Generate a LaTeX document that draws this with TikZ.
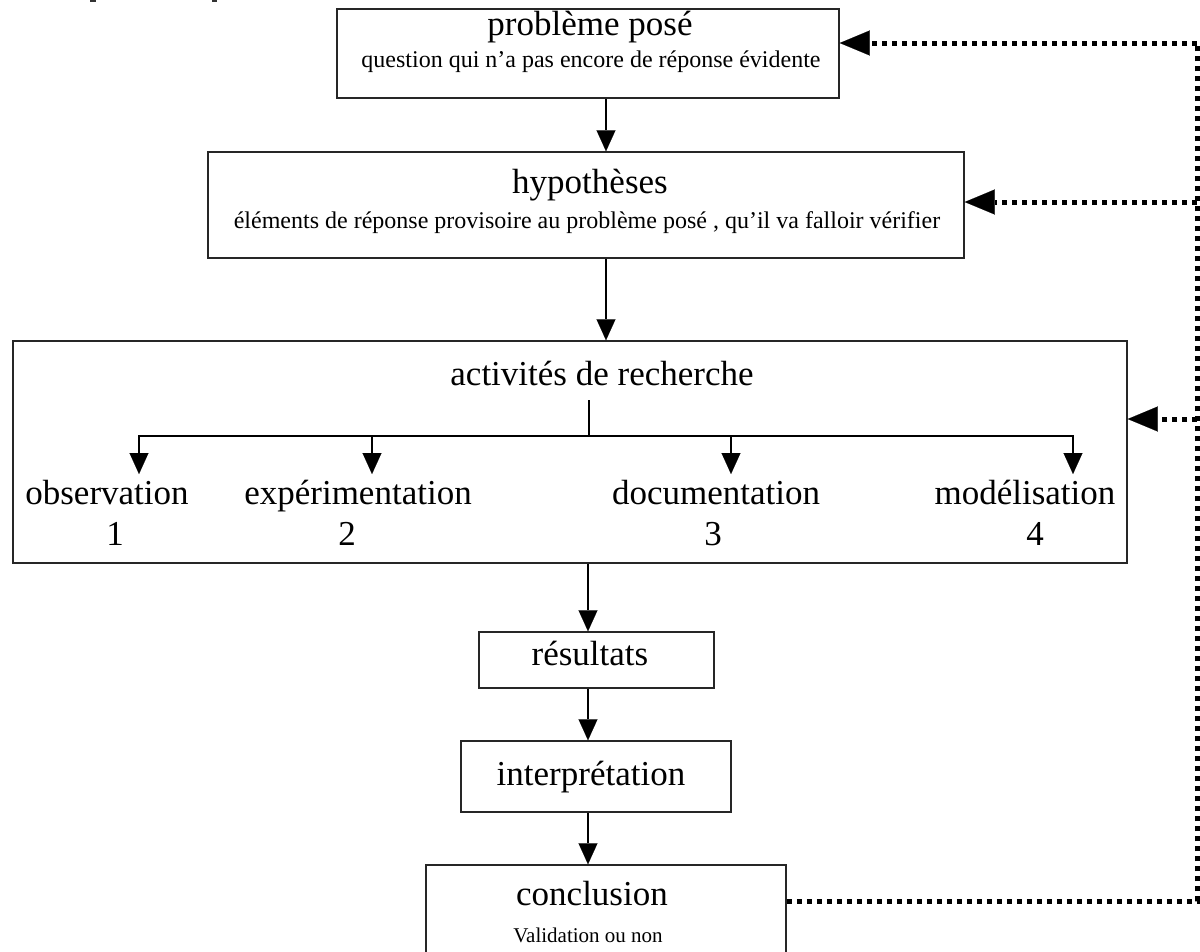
\documentclass[tikz,border=0pt]{standalone}
\usepackage{fontspec}
\setmainfont{Liberation Serif}
\usetikzlibrary{arrows.meta}
\tikzset{
  boxnode/.style={draw=black!85, line width=1.5pt, rectangle, inner sep=0pt},
  ttl/.style={font=\fontsize{35}{40}\selectfont, anchor=base, inner sep=0pt},
  subttl/.style={font=\fontsize{24}{28}\selectfont, anchor=base, inner sep=0pt},
  arr/.style={line width=1.4pt, -{Triangle[length=21pt,width=19pt,line width=0.1pt]}},
  plainline/.style={line width=1.4pt},
  dotline/.style={line width=5pt, dash pattern=on 5pt off 5pt},
  dotarr/.style={-{Triangle[length=30pt,width=25pt,line width=0.1pt]}}
}
\begin{document}
\begin{tikzpicture}[x=1pt,y=-1pt]
\useasboundingbox (0,0) rectangle (1200,951);
\clip (0,0) rectangle (1200,951);
\fill[white] (0,0) rectangle (1200,951);
% stray marks at the top edge
\fill[black!80] (90,0) rectangle (96,2);
\fill[black!80] (212,0) rectangle (217,2);
% boxes
\node[boxnode, minimum width=502pt, minimum height=89pt] (b1) at (588,53.5) {};
\node[boxnode, minimum width=756pt, minimum height=106pt] (b2) at (586,205) {};
\node[boxnode, minimum width=1114pt, minimum height=222pt] (b3) at (570,452) {};
\node[boxnode, minimum width=235pt, minimum height=56pt] (res) at (596.5,660) {};
\node[boxnode, minimum width=270pt, minimum height=71pt] (int) at (596,776.5) {};
\node[boxnode, minimum width=360pt, minimum height=120pt] (conc) at (606,925) {};
% texts
\node[ttl] (t1) at (590,35) {problème posé};
\node[subttl] (s1) at (591,67) {question qui n'a pas encore de réponse évidente};
\node[ttl] (t2) at (590,193) {hypothèses};
\node[subttl] (s2) at (587,228) {éléments de réponse provisoire au problème posé , qu'il va falloir vérifier};
\node[ttl] (t3) at (602,385) {activités de recherche};
\node[ttl] (l1) at (107,504) {observation};
\node[ttl] (n1) at (115,545) {1};
\node[ttl] (l2) at (358,504) {expérimentation};
\node[ttl] (n2) at (347,545) {2};
\node[ttl] (l3) at (716,504) {documentation};
\node[ttl] (n3) at (713,545) {3};
\node[ttl] (l4) at (1025,504) {modélisation};
\node[ttl] (n4) at (1035,545) {4};
\node[ttl] (tres) at (590,665) {résultats};
\node[ttl] (tint) at (591,785) {interprétation};
\node[ttl] (tconc) at (592,905) {conclusion};
\node[font=\fontsize{21}{25}\selectfont, anchor=base, inner sep=0pt] (sconc) at (588,942) {Validation ou non};
% main vertical arrows
\coordinate (cx1) at (606,0);
\coordinate (cx2) at (588,0);
\draw[arr] (b1.south -| cx1) -- (b2.north -| cx1);
\draw[arr] (b2.south -| cx1) -- (b3.north -| cx1);
\draw[arr] (b3.south -| cx2) -- (res.north -| cx2);
\draw[arr] (res.south -| cx2) -- (int.north -| cx2);
\draw[arr] (int.south -| cx2) -- (conc.north -| cx2);
% inner fork
\coordinate (fork) at (589,400);
\coordinate (j) at (589,436);
\coordinate (e1) at (139,474);
\coordinate (e2) at (372,474);
\coordinate (e3) at (731,474);
\coordinate (e4) at (1073,474);
\draw[plainline] (fork) -- (j);
\draw[arr] (j) -| (e1);
\draw[arr] (j) -| (e2);
\draw[arr] (j) -| (e3);
\draw[arr] (j) -| (e4);
% dotted feedback loop
\coordinate (dTop) at (1197,43);
\coordinate (d2) at (1197,202);
\coordinate (d3) at (1197,419);
\coordinate (dBot) at (1197,901);
\draw[dotline] (conc.east |- dBot) -- (dBot) -- (dTop);
\draw[dotline, dotarr] (dTop) -- (b1.east |- dTop);
\draw[dotline, dotarr] (d2) -- (b2.east |- d2);
\draw[dotline, dotarr] (d3) -- (b3.east |- d3);
\end{tikzpicture}
\end{document}
